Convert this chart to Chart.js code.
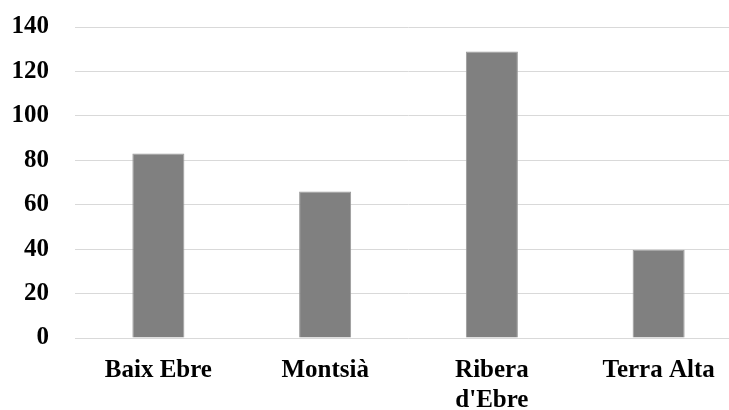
<!DOCTYPE html>
<html>
<head>
<meta charset="utf-8">
<script src="https://cdn.jsdelivr.net/npm/chart.js@4/dist/chart.umd.min.js"></script>
<style>
html,body{margin:0;padding:0;background:#fff;overflow:hidden;}
#wrap{width:742px;height:424px;position:relative;top:-14px;}
</style>
</head>
<body>
<div id="wrap"><canvas id="c"></canvas></div>
<script>
const categories = ['Baix Ebre', 'Montsià', ['Ribera', "d'Ebre"], 'Terra Alta'];
const values = [83, 66, 129, 39.7];
const yTicks = [0, 20, 40, 60, 80, 100, 120, 140];

const font = {family: '"Liberation Serif", "Times New Roman", serif', size: 25, weight: 'bold'};

new Chart(document.getElementById('c'), {
  type: 'bar',
  data: {
    labels: categories,
    datasets: [{
      data: values,
      backgroundColor: '#808080',
      borderColor: '#9a9a9a',
      borderWidth: 1,
      categoryPercentage: 1,
      barPercentage: 0.312
    }]
  },
  options: {
    responsive: true,
    maintainAspectRatio: false,
    animation: false,
    layout: {padding: {left: 11, top: 0, right: 0, bottom: 0}},
    plugins: {legend: {display: false}, tooltip: {enabled: false}},
    scales: {
      x: {
        grid: {display: false, drawTicks: false},
        border: {display: false},
        ticks: {color: '#000', font: font, padding: 18, maxRotation: 0, autoSkip: false},
        afterFit: (axis) => { axis.height = 72; }
      },
      y: {
        min: yTicks[0],
        max: yTicks[yTicks.length - 1],
        afterBuildTicks: (axis) => { axis.ticks = yTicks.map(v => ({value: v})); },
        grid: {color: '#d9d9d9', lineWidth: 1, drawTicks: false},
        border: {display: false},
        ticks: {color: '#000', font: font, padding: 26},
        afterFit: (axis) => { axis.width = 64; }
      }
    }
  }
});
</script>
</body>
</html>
